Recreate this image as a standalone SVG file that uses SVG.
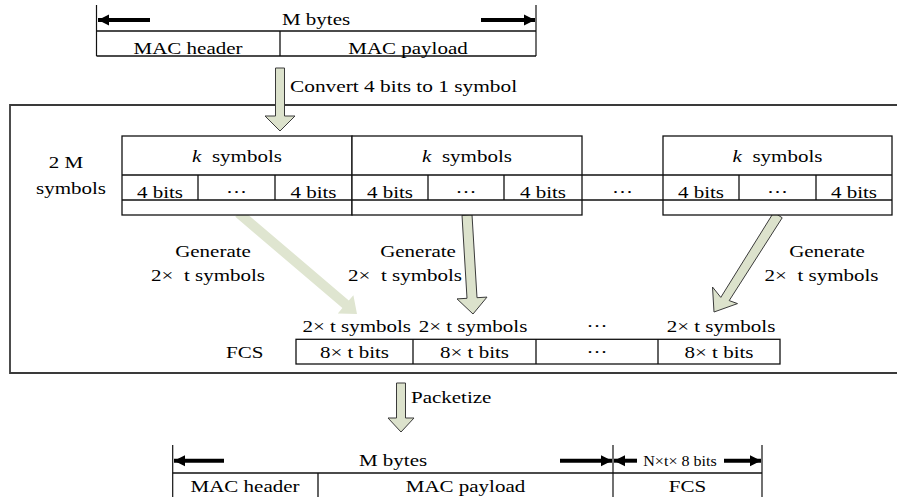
<svg xmlns="http://www.w3.org/2000/svg" width="897" height="497" viewBox="0 0 897 497">
  <style>
    .bg { fill: #ffffff; }
    .ln { stroke: #111; stroke-width: 1.3; fill: none; }
    .cell { stroke: #111; stroke-width: 1.3; fill: #ffffff; }
    .frame { stroke: #3a3a3a; stroke-width: 1.8; fill: none; }
    .dim { stroke: #000; stroke-width: 4; fill: none; }
    .tick { stroke: #111; stroke-width: 1.2; }
    .txt { font-family: "Liberation Serif", "Times New Roman", serif; font-size: 17.5px; fill: #000; text-anchor: middle; white-space: pre; }
    .txt.start { text-anchor: start; }
    .small { font-size: 14px; }
    .fat { fill: #dce2cc; stroke: #3a3a3a; stroke-width: 1; stroke-linejoin: miter; }
    .fat.soft { fill: #dfe5d0; stroke: none; }
  </style>
  <defs>
    <marker id="dimHead" markerUnits="userSpaceOnUse" markerWidth="12" markerHeight="12" viewBox="0 0 12 12" refX="11" refY="6" orient="auto">
      <path d="M0,0.5 L11,6 L0,11.5 Z" fill="#000"/>
    </marker>
  </defs>

  <rect class="bg" x="0" y="0" width="897" height="497"/>

  <!-- incoming MAC frame -->
  <g id="mac-frame-in">
    <line class="tick" x1="96.5" y1="5" x2="96.5" y2="56"/>
    <line class="tick" x1="536" y1="5" x2="536" y2="56"/>
    <line class="dim" x1="150" y1="20" x2="98" y2="20" marker-end="url(#dimHead)"/>
    <line class="dim" x1="481" y1="20" x2="535" y2="20" marker-end="url(#dimHead)"/>
    <text class="txt" transform="translate(316,25) scale(1.2,1)">M bytes</text>
    <path class="ln" d="M96.5,31 H536 M96.5,56 H536 M280,31 V56"/>
    <text class="txt" transform="translate(188,53.5) scale(1.2,1)">MAC header</text>
    <text class="txt" transform="translate(408,53.5) scale(1.2,1)">MAC payload</text>
  </g>

  <!-- encoder frame -->
  <g id="encoder">
    <path class="frame" d="M899,105 H10 V373 H899"/>
    <text class="txt" transform="translate(66,167.5) scale(1.2,1)">2 M</text>
    <text class="txt" transform="translate(71,193.5) scale(1.2,1)">symbols</text>
    <text class="txt" transform="translate(244.7,358.3) scale(1.2,1)">FCS</text>
  </g>

  <!-- generator arrows sit under the symbol blocks -->
  <g id="connectors">
    <polygon id="gen-1" class="fat soft" points="235.3,216.8 342.4,308.1 337.8,313.4 357,314 353.4,295.2 348.8,300.5 241.7,209.2"/>
    <polygon id="gen-2" class="fat" points="462,215.3 467,298.3 457,298.9 473,314 487,297.1 477,297.7 472,214.7"/>
    <polygon id="gen-3" class="fat" points="782.2,217.8 729.2,300.6 737.5,303.6 714,312 712.5,287 720.8,297.4 773.8,212.2"/>
    <text class="txt" transform="translate(213,256.7) scale(1.2,1)">Generate</text>
    <text class="txt" transform="translate(208,281) scale(1.2,1)">2×  t symbols</text>
    <text class="txt" transform="translate(418,256.7) scale(1.2,1)">Generate</text>
    <text class="txt" transform="translate(405,281) scale(1.2,1)">2×  t symbols</text>
    <text class="txt" transform="translate(827,256.7) scale(1.2,1)">Generate</text>
    <text class="txt" transform="translate(821.5,281) scale(1.2,1)">2×  t symbols</text>
  </g>

  <!-- symbol blocks -->
  <g id="block-1">
    <rect class="cell" x="122" y="136" width="230" height="79"/>
    <path class="ln" d="M122,175 H352 M122,200 H352 M198,175 V200 M275,175 V200"/>
    <text class="txt" transform="translate(237,162) scale(1.2,1)"><tspan font-style="italic">k</tspan>  symbols</text>
    <text class="txt" transform="translate(160,197.5) scale(1.2,1)">4 bits</text>
    <text class="txt" transform="translate(236.5,197.5) scale(1.2,1)">···</text>
    <text class="txt" transform="translate(313.5,197.5) scale(1.2,1)">4 bits</text>
  </g>
  <g id="block-2">
    <rect class="cell" x="352" y="136" width="230" height="79"/>
    <path class="ln" d="M352,175 H582 M352,200 H582 M428,175 V200 M504,175 V200"/>
    <text class="txt" transform="translate(467,162) scale(1.2,1)"><tspan font-style="italic">k</tspan>  symbols</text>
    <text class="txt" transform="translate(390,197.5) scale(1.2,1)">4 bits</text>
    <text class="txt" transform="translate(466,197.5) scale(1.2,1)">···</text>
    <text class="txt" transform="translate(543,197.5) scale(1.2,1)">4 bits</text>
  </g>
  <g id="block-gap">
    <path class="ln" d="M582,175 H663 M582,200 H663"/>
    <text class="txt" transform="translate(622.5,197.5) scale(1.2,1)">···</text>
  </g>
  <g id="block-3">
    <rect class="cell" x="663" y="136" width="229" height="79"/>
    <path class="ln" d="M663,175 H892 M663,200 H892 M739,175 V200 M816,175 V200"/>
    <text class="txt" transform="translate(777.5,162) scale(1.2,1)"><tspan font-style="italic">k</tspan>  symbols</text>
    <text class="txt" transform="translate(701,197.5) scale(1.2,1)">4 bits</text>
    <text class="txt" transform="translate(777.5,197.5) scale(1.2,1)">···</text>
    <text class="txt" transform="translate(854,197.5) scale(1.2,1)">4 bits</text>
  </g>

  <!-- frame check sequence row -->
  <g id="fcs-row">
    <text class="txt" transform="translate(356.7,331.7) scale(1.2,1)">2× t symbols</text>
    <text class="txt" transform="translate(473,331.7) scale(1.2,1)">2× t symbols</text>
    <text class="txt" transform="translate(597,331.7) scale(1.2,1)">···</text>
    <text class="txt" transform="translate(721,331.7) scale(1.2,1)">2× t symbols</text>
    <rect class="cell" x="296" y="339.3" width="484" height="24.7"/>
    <path class="ln" d="M413,339.3 V364 M536,339.3 V364 M658,339.3 V364"/>
    <text class="txt" transform="translate(354.5,358) scale(1.2,1)">8× t bits</text>
    <text class="txt" transform="translate(474.5,358) scale(1.2,1)">8× t bits</text>
    <text class="txt" transform="translate(597,358) scale(1.2,1)">···</text>
    <text class="txt" transform="translate(719,358) scale(1.2,1)">8× t bits</text>
  </g>

  <!-- conversion and packetizing arrows -->
  <g id="convert-arrow">
    <polygon class="fat" points="275.5,68 284.5,68 284.5,116 295,116 280,131 265,116 275.5,116"/>
    <text class="txt start" transform="translate(290,91.5) scale(1.22,1)">Convert 4 bits to 1 symbol</text>
  </g>
  <g id="packetize-arrow">
    <polygon class="fat" points="396.5,383 405.5,383 405.5,418 414,418 401,432 388,418 396.5,418"/>
    <text class="txt start" transform="translate(411,403) scale(1.2,1)">Packetize</text>
  </g>

  <!-- outgoing packet -->
  <g id="mac-frame-out">
    <line class="tick" x1="172.7" y1="445" x2="172.7" y2="497"/>
    <line class="tick" x1="613" y1="445" x2="613" y2="497"/>
    <line class="tick" x1="762" y1="445" x2="762" y2="497"/>
    <line class="dim" x1="224" y1="460.7" x2="174" y2="460.7" marker-end="url(#dimHead)"/>
    <line class="dim" x1="560" y1="460.7" x2="612" y2="460.7" marker-end="url(#dimHead)"/>
    <line class="dim" x1="637" y1="460.7" x2="614" y2="460.7" marker-end="url(#dimHead)"/>
    <line class="dim" x1="724" y1="460.7" x2="761" y2="460.7" marker-end="url(#dimHead)"/>
    <text class="txt" transform="translate(393,466) scale(1.2,1)">M bytes</text>
    <text class="txt small" transform="translate(680,465.5) scale(1.15,1)">N×t× 8 bits</text>
    <path class="ln" d="M172.7,473 H762 M318,473 V497"/>
    <text class="txt" transform="translate(245,492) scale(1.2,1)">MAC header</text>
    <text class="txt" transform="translate(465.5,492) scale(1.2,1)">MAC payload</text>
    <text class="txt" transform="translate(687.5,492) scale(1.2,1)">FCS</text>
  </g>
</svg>
